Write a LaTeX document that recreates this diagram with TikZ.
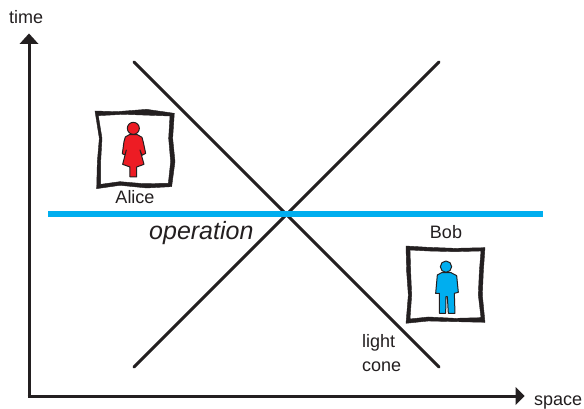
\documentclass[tikz,border=0pt]{standalone}
\usepackage{fontspec}
\setmainfont{Liberation Sans}
\definecolor{inkc}{HTML}{231F20}
\definecolor{cyanc}{HTML}{00AEEF}
\definecolor{redc}{HTML}{ED1C24}
\tikzset{
  axisline/.style={draw=inkc,line width=3pt},
  tipshape/.style={fill=inkc,draw=none},
  coneline/.style={draw=inkc,line width=3pt,line cap=round},
  oppline/.style={draw=cyanc,line width=5.5pt},
  framefill/.style={fill=inkc,even odd rule,draw=inkc,line width=.4pt},
  personshape/.style={draw=inkc,line width=1pt,line join=round},
  label/.style={text=inkc,font=\fontsize{18}{21}\selectfont,inner sep=0pt},
  zoomA/.style={shift={(80,95)},x=.3333pt,y=-.3333pt},
  zoomB/.style={shift={(395,215)},x=.3333pt,y=-.3333pt}
}
\begin{document}
\begin{tikzpicture}[x=1pt,y=-1pt]
\useasboundingbox (0,0) rectangle (584,409);
\fill[white] (0,0) rectangle (584,409);
% named end points
\coordinate (origin) at (27.5,396);
\coordinate (timetop) at (29,42);
\coordinate (spaceend) at (517,396);
\coordinate (coneA1) at (134,62);
\coordinate (coneA2) at (439,367);
\coordinate (coneB1) at (439,62);
\coordinate (coneB2) at (134,367);
\coordinate (opL) at (48,214);
\coordinate (opR) at (543,214);
% axes
\draw[axisline] (29,397.5) -- (timetop);
\draw[axisline] (origin) -- (spaceend);
\fill[tipshape] (29,33.5) -- (38.5,44) -- (19.5,44) -- cycle;
\fill[tipshape] (524.5,396) -- (515.5,387) -- (515.5,405) -- cycle;
% light cone
\draw[coneline] (coneA1) -- (coneA2);
\draw[coneline] (coneB1) -- (coneB2);
% operation line
\draw[oppline] (opL) -- (opR);
% Alice
\begin{scope}[zoomA]
\path[framefill] (45,48) -- (110,50) -- (200,43) -- (283,55) -- (278,130) -- (285,200) -- (275,275) -- (200,279) -- (120,271) -- (50,281) -- (52,200) -- (58,130) -- cycle
  (55,62) -- (130,58) -- (270,63) -- (266,130) -- (272,200) -- (265,265) -- (190,266) -- (120,260) -- (62,268) -- (62,200) -- (66,130) -- cycle;
\filldraw[personshape,fill=redc] (160,100) circle[radius=18];
\filldraw[personshape,fill=redc] (148,119) -- (172,119) -- (186,127) -- (190,142) -- (197,175) -- (186,181) -- (180,165) -- (192,208) -- (170,216) -- (170,246) -- (150,246) -- (150,216) -- (128,208) -- (139,165) -- (135,180) -- (127,176) -- (132,140) -- (136,126) -- cycle;
\end{scope}
% Bob
\begin{scope}[zoomB]
\path[framefill] (33,93) -- (100,97) -- (180,100) -- (270,98) -- (265,170) -- (262,240) -- (270,322) -- (180,320) -- (100,318) -- (33,325) -- (40,240) -- (35,170) -- cycle
  (45,105) -- (100,108) -- (180,110) -- (258,108) -- (253,170) -- (250,240) -- (258,308) -- (180,310) -- (100,306) -- (45,312) -- (50,240) -- (47,170) -- cycle;
\filldraw[personshape,fill=cyanc] (153,155) circle[radius=17];
\filldraw[personshape,fill=cyanc] (127,180) -- (140,173) -- (168,173) -- (185,182) -- (190,232) -- (178,235) -- (180,295) -- (160,295) -- (157,245) -- (153,245) -- (152,295) -- (133,295) -- (133,235) -- (122,235) -- cycle;
\end{scope}
% labels
\node[label,anchor=base west] (timelabel) at (9,24) {time};
\node[label,anchor=base west] (spacelabel) at (534,405) {space};
\node[label,anchor=base] (alicelabel) at (135,204) {Alice};
\node[label,anchor=base] (boblabel) at (446,238) {Bob};
\node[label,anchor=base west] (lightlabel) at (362,347) {light};
\node[label,anchor=base west] (conelabel) at (362,371) {cone};
\node[label,anchor=base west,font=\fontsize{25}{29}\selectfont\itshape] (oplabel) at (149,239) {operation};
\end{tikzpicture}
\end{document}
